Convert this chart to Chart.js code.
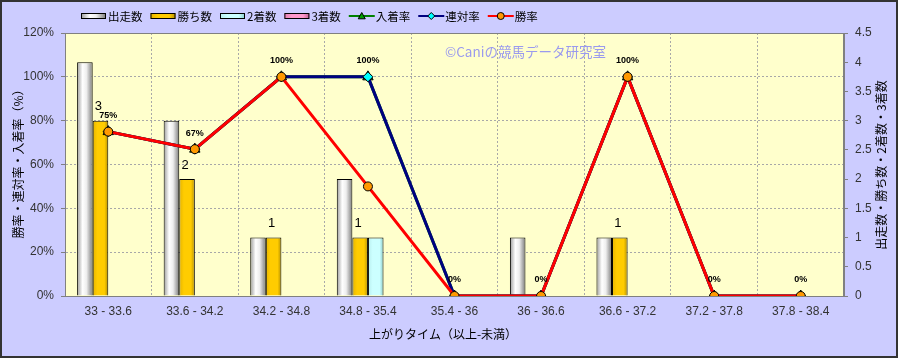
<!DOCTYPE html>
<html>
<head>
<meta charset="utf-8">
<script src="https://cdn.jsdelivr.net/npm/chart.js@4"></script>
<style>
html, body { margin: 0; padding: 0; background: #CCCCFF; }
canvas { display: block; }
</style>
</head>
<body>
<canvas id="chart" width="898" height="358"></canvas>
<script>
// data
const categories = ['33 - 33.6', '33.6 - 34.2', '34.2 - 34.8', '34.8 - 35.4', '35.4 - 36',
  '36 - 36.6', '36.6 - 37.2', '37.2 - 37.8', '37.8 - 38.4'];
const runs    = [4, 3, 1, 2, 0, 1, 1, 0, 0];   // 出走数
const wins    = [3, 2, 1, 1, 0, 0, 1, 0, 0];   // 勝ち数
const seconds = [0, 0, 0, 1, 0, 0, 0, 0, 0];   // 2着数
const thirds  = [0, 0, 0, 0, 0, 0, 0, 0, 0];   // 3着数
const placeRate  = [75, 67, 100, 100, 0, 0, 100, 0, 0]; // 入着率 (%)
const rentaiRate = [75, 67, 100, 100, 0, 0, 100, 0, 0]; // 連対率 (%)
const winRate    = [75, 67, 100, 50, 0, 0, 100, 0, 0];  // 勝率 (%)

const NUM_FONT = "'Liberation Sans Narrow', 'Liberation Sans', sans-serif";
const JP_FONT = "'Noto Sans CJK JP', sans-serif";

// colour stops for the shaded bars (left -> right)
const barShades = {
  '出走数': [[0, '#9a9a9a'], [0.35, '#ffffff'], [0.6, '#eeeeee'], [1, '#7a7a7a']],
  '勝ち数': [[0, '#e6b400'], [0.3, '#ffcc00'], [0.75, '#ffcc00'], [1, '#b38f00']],
  '2着数': [[0, '#b8eeee'], [0.3, '#ccffff'], [0.75, '#ccffff'], [1, '#88cccc']],
  '3着数': [[0, '#e080b0'], [0.3, '#ff99cc'], [0.75, '#ff99cc'], [1, '#c06090']]
};

function shade(ctx, name, x0, x1) {
  const g = ctx.createLinearGradient(x0, 0, x1, 0);
  barShades[name].forEach(s => g.addColorStop(s[0], s[1]));
  return g;
}

function drawMarker(ctx, style, x, y, r, fill, stroke) {
  ctx.beginPath();
  if (style === 'triangle') {
    ctx.moveTo(x, y - r);
    ctx.lineTo(x + r, y + r * 0.8);
    ctx.lineTo(x - r, y + r * 0.8);
    ctx.closePath();
  } else if (style === 'rectRot') {
    ctx.moveTo(x, y - r);
    ctx.lineTo(x + r, y);
    ctx.lineTo(x, y + r);
    ctx.lineTo(x - r, y);
    ctx.closePath();
  } else {
    ctx.arc(x, y, r, 0, Math.PI * 2);
  }
  ctx.fillStyle = fill;
  ctx.fill();
  ctx.lineWidth = 1;
  ctx.strokeStyle = stroke;
  ctx.stroke();
}

const decor = {
  id: 'decor',
  beforeDraw(chart) {
    const { ctx, chartArea: a } = chart;
    ctx.save();
    ctx.fillStyle = '#CCCCFF';
    ctx.fillRect(0, 0, chart.width, chart.height);
    ctx.fillStyle = '#FFFFCC';
    ctx.fillRect(a.left, a.top, a.right - a.left, a.bottom - a.top);
    ctx.restore();
  },
  beforeDatasetsDraw(chart) {
    const { ctx, chartArea: a } = chart;
    ctx.save();
    ctx.strokeStyle = '#808080';
    ctx.lineWidth = 1;
    ctx.strokeRect(a.left + 0.5, a.top + 0.5, a.right - a.left - 1, a.bottom - a.top);
    // watermark
    ctx.font = '13.5px ' + JP_FONT;
    ctx.fillStyle = '#9a9aee';
    ctx.textBaseline = 'middle';
    ctx.textAlign = 'left';
    ctx.fillText('©Caniの競馬データ研究室', 445, 52);
    ctx.restore();
    // horizontal shading on each bar
    chart.data.datasets.forEach((ds, i) => {
      if (ds.type !== 'bar') return;
      chart.getDatasetMeta(i).data.forEach(el => {
        const p = el.getProps(['x', 'width'], true);
        el.options = Object.assign({}, el.options, {
          backgroundColor: shade(ctx, ds.label, p.x - p.width / 2, p.x + p.width / 2)
        });
      });
    });
  },
  afterDatasetsDraw(chart) {
    const { ctx } = chart;
    ctx.save();
    ctx.textAlign = 'center';
    ctx.textBaseline = 'middle';
    ctx.fillStyle = '#000';
    // percentage labels on the 入着率 points
    const pi = chart.data.datasets.findIndex(d => d.label === '入着率');
    ctx.font = 'bold 9px Liberation Sans, sans-serif';
    chart.getDatasetMeta(pi).data.forEach((el, j) => {
      ctx.fillText(Math.round(placeRate[j]) + '%', el.x, el.y - 16);
    });
    // count labels on the 勝ち数 bars
    const wi = chart.data.datasets.findIndex(d => d.label === '勝ち数');
    ctx.font = '13px ' + NUM_FONT;
    chart.getDatasetMeta(wi).data.forEach((el, j) => {
      if (wins[j] > 0) ctx.fillText(String(wins[j]), el.x - 2, el.y - 14);
    });
    ctx.restore();
  },
  afterDraw(chart) {
    const { ctx } = chart;
    ctx.save();
    // legend
    let x = 81;
    const y = 16;
    ctx.font = '11.5px ' + JP_FONT;
    ctx.textBaseline = 'middle';
    ctx.textAlign = 'left';
    legendOrder.forEach(label => {
      const ds = chart.data.datasets.find(d => d.label === label);
      if (ds.type === 'bar') {
        ctx.fillStyle = shade(ctx, label, x, x + 25);
        ctx.fillRect(x, y - 3, 25, 6);
        ctx.strokeStyle = '#000';
        ctx.lineWidth = 1;
        ctx.strokeRect(x + 0.5, y - 2.5, 24, 5);
      } else {
        ctx.strokeStyle = ds.borderColor;
        ctx.lineWidth = 2;
        ctx.beginPath();
        ctx.moveTo(x, y);
        ctx.lineTo(x + 26, y);
        ctx.stroke();
        drawMarker(ctx, ds.pointStyle, x + 13, y, 3.5, ds.pointBackgroundColor, ds.pointBorderColor);
      }
      x += 27;
      ctx.fillStyle = '#000';
      ctx.fillText(label, x, y + 0.5);
      x += ctx.measureText(label).width + 8;
    });
    // axis titles
    ctx.fillStyle = '#000';
    ctx.font = '12px ' + JP_FONT;
    ctx.textAlign = 'center';
    ctx.fillText('上がりタイム（以上-未満）', 443, 334);
    ctx.translate(18, 161);
    ctx.rotate(-Math.PI / 2);
    ctx.fillText('勝率・連対率・入着率（%）', 0, 0);
    ctx.restore();
    ctx.save();
    ctx.fillStyle = '#000';
    ctx.font = '12px ' + JP_FONT;
    ctx.textAlign = 'center';
    ctx.textBaseline = 'middle';
    ctx.translate(881, 165);
    ctx.rotate(-Math.PI / 2);
    ctx.fillText('出走数・勝ち数・2着数・3着数', 0, 0);
    ctx.restore();
    // outer frame
    ctx.save();
    ctx.strokeStyle = '#333';
    ctx.lineWidth = 2;
    ctx.strokeRect(1, 1, chart.width - 2, chart.height - 2);
    ctx.restore();
  }
};

const legendOrder = ['出走数', '勝ち数', '2着数', '3着数', '入着率', '連対率', '勝率'];

function barSet(label, data, order) {
  return {
    type: 'bar',
    label: label,
    data: data,
    yAxisID: 'y1',
    order: order,
    backgroundColor: '#ffffff',
    borderColor: '#000',
    borderWidth: c => (c.raw > 0 ? 1 : 0),
    categoryPercentage: 0.72,
    barPercentage: 1
  };
}

function lineSet(label, data, color, style, fill, radius, order) {
  return {
    type: 'line',
    label: label,
    data: data,
    yAxisID: 'y',
    order: order,
    borderColor: color,
    borderWidth: 3,
    tension: 0,
    pointStyle: style,
    pointRadius: radius,
    pointBackgroundColor: fill,
    pointBorderColor: '#000',
    pointBorderWidth: 1
  };
}

new Chart(document.getElementById('chart'), {
  type: 'bar',
  data: {
    labels: categories,
    datasets: [
      barSet('出走数', runs, 4),
      barSet('勝ち数', wins, 5),
      barSet('2着数', seconds, 6),
      barSet('3着数', thirds, 7),
      lineSet('入着率', placeRate, '#008000', 'triangle', '#00a000', 6, 2),
      lineSet('連対率', rentaiRate, '#000080', 'rectRot', '#00ffff', 5, 1),
      lineSet('勝率', winRate, '#ff0000', 'circle', '#ff9900', 4.5, 0)
    ]
  },
  options: {
    responsive: false,
    animation: false,
    devicePixelRatio: 1,
    layout: { padding: { top: 33, left: 0, right: 0, bottom: 0 } },
    plugins: { legend: { display: false }, tooltip: { enabled: false } },
    scales: {
      x: {
        offset: true,
        grid: { offset: true, color: '#a8a8a8', drawTicks: false, tickLength: 0 },
        border: { color: '#808080', dash: [2, 2] },
        ticks: { color: '#333', font: { family: NUM_FONT, size: 12 }, padding: 8, maxRotation: 0, autoSkip: false },
        afterFit(s) { s.height = 62; }
      },
      y: {
        position: 'left',
        min: 0,
        max: 120,
        grid: { color: '#a8a8a8', tickLength: 4, tickColor: '#808080', tickBorderDash: [] },
        border: { color: '#808080', dash: [2, 2] },
        ticks: { stepSize: 20, color: '#333', font: { family: NUM_FONT, size: 12 }, padding: 7,
          callback: v => v + '%' },
        afterFit(s) { s.width = 65; }
      },
      y1: {
        position: 'right',
        min: 0,
        max: 4.5,
        grid: { drawOnChartArea: false, tickLength: 4, tickColor: '#808080' },
        border: { color: '#808080' },
        ticks: { stepSize: 0.5, color: '#333', font: { family: NUM_FONT, size: 12 }, padding: 7,
          callback: v => String(Math.round(v * 10) / 10) },
        afterFit(s) { s.width = 54; }
      }
    }
  },
  plugins: [decor]
});
</script>
</body>
</html>
